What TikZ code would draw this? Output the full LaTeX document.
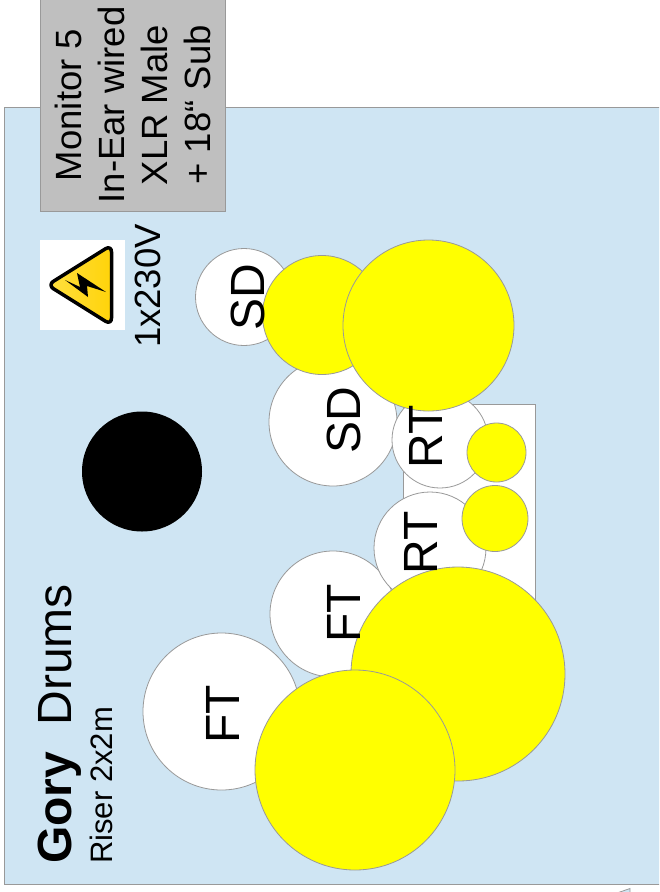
\documentclass[tikz,border=0pt]{standalone}
\usepackage{fontspec}
\setmainfont{Liberation Sans}
\definecolor{risercolor}{HTML}{CFE5F3}
\definecolor{linecolor}{HTML}{999999}
\definecolor{monitorcolor}{HTML}{BFBFBF}
\definecolor{cymbalcolor}{HTML}{FFFF00}
\definecolor{signcolor}{HTML}{FFD30A}
\definecolor{signlight}{HTML}{FFE040}
\newcommand{\sizedfont}[2]{\fontsize{#1}{#2}\selectfont}
\begin{document}
\begin{tikzpicture}[
    x=1pt, y=-1pt,
    box/.style={draw=linecolor, line width=0.8pt, inner sep=0pt},
    drum/.style={circle, draw=linecolor, line width=0.8pt, fill=white, inner sep=0pt},
    cymbal/.style={circle, draw=linecolor, line width=0.8pt, fill=cymbalcolor, inner sep=0pt},
    drumtext/.style={rotate=90, font=\sizedfont{48}{54}, inner sep=0pt},
    riserline/.style={rotate=90, anchor=west, inner sep=0pt}
]
\clip (0,0) rectangle (659,892);

% Riser and monitor box
\node[box, fill=risercolor, minimum width=777pt, minimum height=680pt, rotate=90] (riser) at (344,495.5) {};
\node[box, fill=monitorcolor, minimum width=212pt, minimum height=185pt, rotate=90, align=center, font=\sizedfont{36.5}{43}] (monitor) at (132.5,105)
    {Monitor 5\\In-Ear wired\\XLR Male\\+ 18“ Sub};

% Power sign
\node[fill=white, inner sep=0pt, minimum width=85pt, minimum height=90pt] (powerbox) at (82.5,285) {};
\draw[left color=signlight, right color=signcolor, draw=black, line width=3.5pt, line join=round, rounded corners=7pt]
    (47.5,285) -- (111.5,245) -- (111.5,325) -- cycle;
\fill[black] (65,280) -- (80,287) -- (77,273) -- (106,292) -- (87,286) -- (88,297) -- cycle;
\node[rotate=90, font=\sizedfont{36.5}{43}, inner sep=0pt] (power) at (148,286) {1x230V};

% Drummer
\node[circle, fill=black, minimum size=120pt, inner sep=0pt] (drummer) at (142,471.5) {};

% Rack tom stand
\node[box, fill=white, minimum width=132pt, minimum height=200pt, anchor=north west] (stand) at (403,404) {};

% Drums
\node[drum, minimum size=97pt] (sdsmall) at (244,297) {};
\node[drum, minimum size=128pt] (sdbig) at (333,422) {};
\node[drum, minimum size=126pt] (ftsmall) at (333,614) {};
\node[drum, minimum size=157pt] (ftbig) at (221.5,711.5) {};
\node[drum, minimum size=96pt] (rtup) at (440,440) {};
\node[drum, minimum size=112pt] (rtlow) at (430,548) {};

% Cymbals
\node[cymbal, minimum size=119pt] (cymsdsmall) at (322,315) {};
\node[cymbal, minimum size=171pt] (cymsdbig) at (428.5,325.5) {};
\node[cymbal, minimum size=59pt] (cymrtup) at (496.5,452.5) {};
\node[cymbal, minimum size=66pt] (cymrtlow) at (495,518.5) {};
\node[cymbal, minimum size=214pt] (cymftsmall) at (458,674) {};
\node[cymbal, minimum size=200pt] (cymftbig) at (355,770) {};

% Drum names
\node[drumtext] (sdsmalltext) at (248,297) {SD};
\node[drumtext] (sdbigtext) at (344,420) {SD};
\node[drumtext] (rtuptext) at (425.5,437) {RT};
\node[drumtext] (rtlowtext) at (420.5,543) {RT};
\node[drumtext] (ftsmalltext) at (344,613) {FT};
\node[drumtext] (ftbigtext) at (223,714) {FT};

% Band name
\node[riserline, font=\sizedfont{48}{54}] (bandname) at (60,864) {\textbf{Gory}\hspace{13pt} Drums};
\node[riserline, font=\sizedfont{31}{36}] (risersize) at (101,864) {Riser 2x2m};

% Cut off shape in the corner
\draw[draw=linecolor, fill=risercolor, line width=0.8pt] (617,893) -- (630,888.5) -- (630,893);
\end{tikzpicture}
\end{document}
